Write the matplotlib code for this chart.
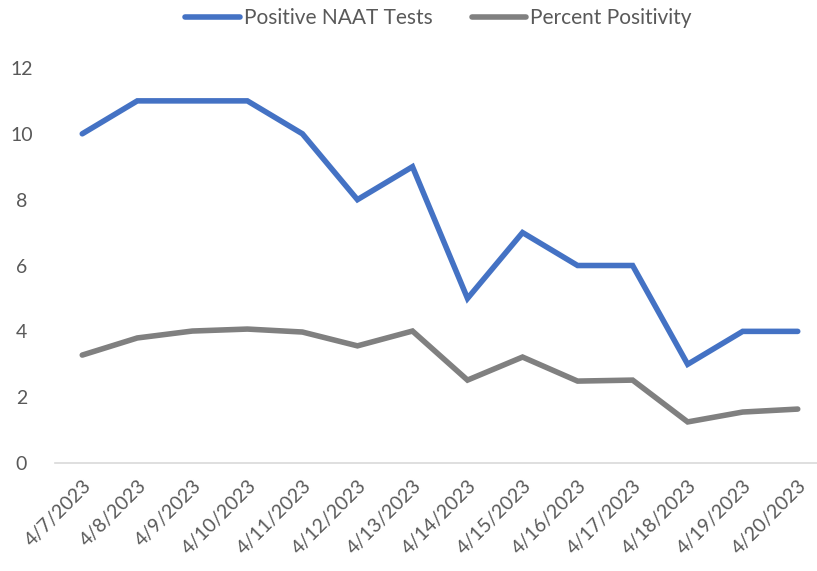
import matplotlib.pyplot as plt
import numpy as np

# chart data
dates = ['4/7/2023', '4/8/2023', '4/9/2023', '4/10/2023', '4/11/2023', '4/12/2023',
         '4/13/2023', '4/14/2023', '4/15/2023', '4/16/2023', '4/17/2023', '4/18/2023',
         '4/19/2023', '4/20/2023']
positive_tests = [10, 11, 11, 11, 10, 8, 9, 5, 7, 6, 6, 3, 4, 4]
percent_pos = [3.28, 3.8, 4.01, 4.07, 3.98, 3.56, 4.01, 2.52, 3.22, 2.49, 2.52, 1.25, 1.55, 1.64]

plt.rcParams['font.family'] = ['Lato', 'DejaVu Sans']
txt = '#595959'

fig = plt.figure(figsize=(8.17, 5.71), dpi=100)
ax = fig.add_axes([0.067, 0.189, 0.933, 0.692])

x = np.arange(len(dates))
ax.plot(x, positive_tests, color='#4472C4', linewidth=4, solid_capstyle='round',
        solid_joinstyle='miter', label='Positive NAAT Tests')
ax.plot(x, percent_pos, color='#808080', linewidth=4, solid_capstyle='round',
        solid_joinstyle='miter', label='Percent Positivity')

ax.set_xlim(-0.5, 13.35)
ax.set_ylim(0, 12)
ax.set_yticks(range(0, 13, 2))
ax.set_xticks(x)
ax.set_xticklabels(dates, rotation=45, ha='right', rotation_mode='anchor')
ax.tick_params(axis='both', length=0, labelsize=14, colors=txt)
ax.tick_params(axis='x', pad=10)
ax.tick_params(axis='y', pad=24)
for lab in ax.get_yticklabels():
    lab.set_horizontalalignment('center')

for s in ['top', 'right', 'left']:
    ax.spines[s].set_visible(False)
ax.spines['bottom'].set_color('#d9d9d9')
ax.spines['bottom'].set_linewidth(1.2)

leg = fig.legend(loc='upper center', bbox_to_anchor=(0.537, 1.018), ncol=2, frameon=False,
                 fontsize=15, handlelength=2.6, columnspacing=1.9, handletextpad=0.2)
for t in leg.get_texts():
    t.set_color(txt)

fig.savefig('out.png', dpi=100)
